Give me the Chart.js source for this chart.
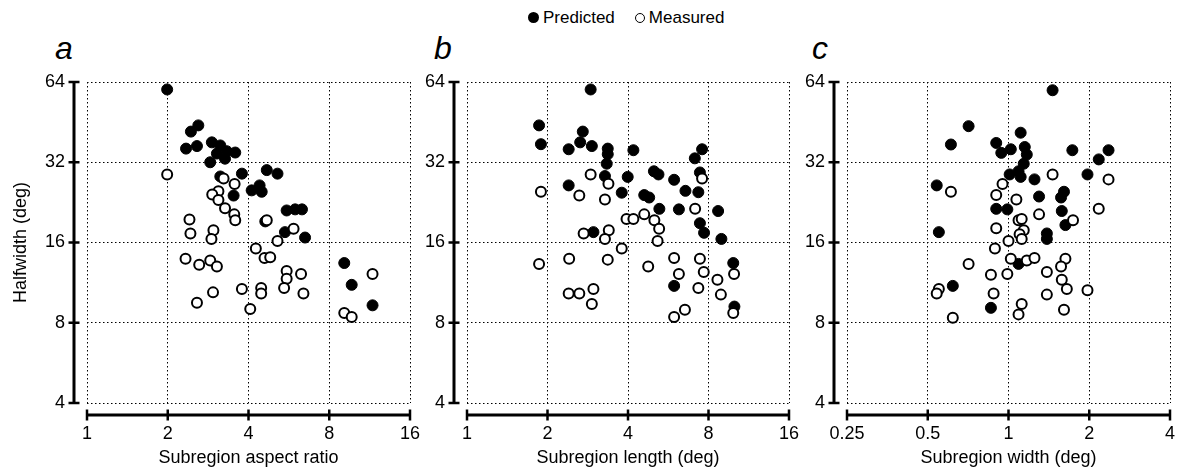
<!DOCTYPE html>
<html>
<head>
<meta charset="utf-8">
<script src="https://cdn.jsdelivr.net/npm/chart.js@4/dist/chart.umd.min.js"></script>
<style>
  body { margin: 0; background: #fff; font-family: "Liberation Sans", Arial, sans-serif; }
  #wrap { position: relative; width: 1177px; height: 469px; overflow: hidden; }
  canvas { position: absolute; top: 0; }
  .legend { position: absolute; top: 7px; left: 528px; font-size: 17px; color: #000; white-space: nowrap; }
  .legend span { display: inline-block; vertical-align: middle; }
  .dot { width: 11px; height: 11px; border-radius: 50%; background: #000; margin-right: 4px; }
  .ring { width: 8px; height: 8px; border-radius: 50%; border: 1.5px solid #000; margin: 0 4px 0 20px; }
  .letter { position: absolute; top: 30px; font-size: 32px; font-style: italic; color: #000; }
</style>
</head>
<body>
<div id="wrap">
  <div class="legend"><span class="dot"></span><span>Predicted</span><span class="ring"></span><span>Measured</span></div>
  <div class="letter" style="left:55px">a</div>
  <div class="letter" style="left:434px">b</div>
  <div class="letter" style="left:812px">c</div>
  <canvas id="chartA" width="420" height="469" style="left:0px"></canvas>
  <canvas id="chartB" width="420" height="469" style="left:380px"></canvas>
  <canvas id="chartC" width="417" height="469" style="left:760px"></canvas>
</div>
<script>
// tick labels
const yTicks = [4, 8, 16, 32, 64];
const xTicksA = [1, 2, 4, 8, 16];
const xTicksB = [1, 2, 4, 8, 16];
const xTicksC = [0.25, 0.5, 1, 2, 4];

// panel a: aspect ratio vs halfwidth
const aPredX = [1.99, 2.6, 2.44, 2.34, 2.57, 2.92, 3.14, 3.05, 3.32, 3.57, 2.88, 3.27, 3.78, 3.14, 3.52, 4.68, 5.13, 4.4, 4.11, 4.48, 5.55, 5.97, 6.33, 4.62, 5.47, 6.5, 9.1, 9.7, 11.6];
const aPredY = [60, 44, 41.7, 36, 36.8, 38, 37, 34.5, 35.2, 34.8, 32, 33, 29, 28.3, 24, 29.9, 29, 26.2, 25.1, 24.8, 21.1, 21.3, 21.3, 19.2, 17.5, 16.7, 13.4, 11.1, 9.3];
const aMeasX = [1.99, 3.23, 3.55, 3.09, 2.93, 3.09, 3.27, 3.54, 3.57, 2.41, 2.43, 2.96, 2.91, 4.68, 5.89, 5.13, 4.26, 2.33, 2.62, 2.88, 3.05, 4.59, 4.82, 5.55, 5.55, 6.28, 3.78, 4.46, 4.46, 5.43, 6.41, 2.95, 2.57, 4.06, 11.6, 9.1, 9.7];
const aMeasY = [28.8, 27.8, 26.5, 24.9, 24.2, 23.1, 21.5, 20.4, 19.4, 19.5, 17.3, 17.8, 16.5, 19.4, 18, 16.2, 15.2, 13.9, 13.2, 13.7, 13.0, 14.0, 14.1, 12.5, 11.7, 12.2, 10.7, 10.8, 10.3, 10.8, 10.3, 10.4, 9.5, 9.0, 12.2, 8.7, 8.4];

// panel b: length vs halfwidth
const bPredX = [2.9, 1.86, 1.89, 2.71, 2.65, 2.4, 2.93, 3.36, 3.36, 3.33, 4.19, 3.28, 3.99, 2.4, 3.79, 4.6, 4.8, 5.0, 5.2, 5.95, 6.56, 7.33, 5.24, 6.2, 7.43, 7.11, 7.57, 8.69, 7.43, 7.7, 8.94, 2.97, 9.9, 5.95, 10.0];
const bPredY = [60, 44, 37.4, 41.7, 38, 35.8, 36.8, 36, 34.3, 31.6, 35.5, 28.4, 28.2, 26.2, 24.6, 24.1, 23.6, 29.6, 28.8, 27.5, 25, 24.7, 21.4, 21.3, 29.3, 33.1, 35.8, 21, 18.9, 17.4, 16.5, 17.5, 13.4, 11, 9.2];
const bMeasX = [1.89, 2.9, 3.38, 2.63, 3.28, 3.95, 4.19, 4.6, 5.02, 5.23, 5.16, 7.13, 7.57, 2.73, 3.39, 3.28, 3.79, 1.86, 2.41, 3.36, 4.76, 5.95, 7.43, 6.2, 7.68, 9.97, 8.64, 7.33, 8.9, 2.4, 2.63, 2.97, 2.93, 6.53, 5.95, 9.9];
const bMeasY = [24.8, 28.8, 26.6, 24.0, 23.2, 19.6, 19.6, 20.4, 19.4, 18, 16.2, 21.4, 27.8, 17.3, 17.8, 16.5, 15.2, 13.3, 13.9, 13.8, 13, 14.0, 13.9, 12.2, 12.4, 12.2, 11.6, 10.8, 10.2, 10.3, 10.3, 10.7, 9.4, 8.95, 8.4, 8.7];

// panel c: width vs halfwidth
const cPredX = [1.46, 0.71, 0.61, 1.11, 0.9, 0.94, 1.02, 1.15, 1.17, 1.14, 1.09, 1.01, 1.11, 1.25, 1.73, 2.17, 2.36, 1.97, 0.54, 1.3, 1.61, 1.57, 1.58, 1.63, 0.9, 0.99, 0.55, 1.39, 1.39, 1.09, 0.62, 0.86];
const cPredY = [59.6, 43.7, 37.3, 41.3, 37.8, 34.7, 35.8, 36.5, 34.2, 31.6, 29.6, 28.8, 28.2, 27.6, 35.5, 32.8, 35.5, 28.8, 26.2, 23.8, 24.8, 23.6, 21, 18.6, 21.4, 21.3, 17.5, 17.3, 16.5, 13.3, 11, 9.1];
const cMeasX = [0.61, 0.95, 0.9, 1.07, 1.46, 2.36, 2.17, 1.3, 1.74, 1.09, 1.12, 1.14, 1.1, 1.12, 0.9, 1.0, 0.89, 0.71, 1.02, 1.17, 1.25, 1.63, 1.57, 0.86, 0.99, 1.39, 1.58, 1.65, 1.97, 1.39, 0.55, 0.54, 0.88, 1.12, 1.09, 1.61, 0.62];
const cMeasY = [24.8, 26.5, 24.1, 23.2, 28.8, 27.6, 21.4, 20.4, 19.4, 19.4, 19.6, 17.8, 17.2, 16.5, 18.1, 16.2, 15.2, 13.3, 13.9, 13.7, 14.0, 13.9, 13, 12.1, 12.2, 12.4, 11.6, 10.7, 10.6, 10.2, 10.7, 10.3, 10.3, 9.4, 8.6, 8.95, 8.35];

const FONT = "'Liberation Sans', Arial, sans-serif";

function toPoints(xs, ys) {
  return xs.map((x, i) => ({ x: x, y: ys[i] }));
}

// solid axis lines drawn a little away from the dotted plot box
const offsetAxes = {
  id: "offsetAxes",
  afterDraw(chart) {
    const ctx = chart.ctx;
    const area = chart.chartArea;
    const xs = chart.scales.x;
    const ys = chart.scales.y;
    const ax = area.left - 13;
    const ay = area.bottom + 12;
    ctx.save();
    ctx.strokeStyle = "#000";
    ctx.lineCap = "butt";

    ctx.lineWidth = 3;
    ctx.beginPath();
    ctx.moveTo(ax, ys.getPixelForValue(ys.min));
    ctx.lineTo(ax, ys.getPixelForValue(ys.max));
    ctx.stroke();
    ctx.beginPath();
    ctx.moveTo(xs.getPixelForValue(xs.min), ay);
    ctx.lineTo(xs.getPixelForValue(xs.max), ay);
    ctx.stroke();

    ctx.lineWidth = 2.5;
    ys.ticks.forEach((t) => {
      const py = ys.getPixelForValue(t.value);
      ctx.beginPath();
      ctx.moveTo(ax - 5.5, py);
      ctx.lineTo(ax + 5.5, py);
      ctx.stroke();
    });
    xs.ticks.forEach((t) => {
      const px = xs.getPixelForValue(t.value);
      ctx.beginPath();
      ctx.moveTo(px, ay - 5.5);
      ctx.lineTo(px, ay + 5.5);
      ctx.stroke();
    });
    ctx.restore();
  },
};

function makePanel(id, xTicks, predX, predY, measX, measY, xTitle, yTitle, padRight) {
  const ctx = document.getElementById(id).getContext("2d");
  return new Chart(ctx, {
    type: "scatter",
    data: {
      datasets: [
        {
          label: "Predicted",
          data: toPoints(predX, predY),
          backgroundColor: "#000",
          borderColor: "#000",
          borderWidth: 1,
          pointRadius: 5.5,
          order: 2,
        },
        {
          label: "Measured",
          data: toPoints(measX, measY),
          backgroundColor: "#fff",
          borderColor: "#000",
          borderWidth: 2,
          pointRadius: 5,
          order: 1,
        },
      ],
    },
    options: {
      responsive: false,
      animation: false,
      events: [],
      layout: { padding: { top: 82, right: padRight, bottom: 0, left: 0 } },
      plugins: { legend: { display: false }, tooltip: { enabled: false } },
      scales: {
        x: {
          type: "logarithmic",
          min: xTicks[0],
          max: xTicks[xTicks.length - 1],
          afterBuildTicks: (s) => { s.ticks = xTicks.map((v) => ({ value: v })); },
          afterFit: (s) => { s.height = 66; s.paddingLeft = 0; s.paddingRight = 0; },
          grid: { color: "#000", lineWidth: 1, drawTicks: false },
          border: { display: false, dash: [1.5, 2.5] },
          ticks: {
            color: "#000",
            padding: 20,
            maxRotation: 0,
            autoSkip: false,
            font: { family: FONT, size: 18 },
            callback: (v) => String(v),
          },
          title: {
            display: true,
            text: xTitle,
            color: "#000",
            font: { family: FONT, size: 18 },
            padding: { top: 0, bottom: 0 },
          },
        },
        y: {
          type: "logarithmic",
          min: 4,
          max: 64,
          afterBuildTicks: (s) => { s.ticks = yTicks.map((v) => ({ value: v })); },
          afterFit: (s) => { s.width = 87; s.paddingTop = 0; s.paddingBottom = 0; },
          grid: { color: "#000", lineWidth: 1, drawTicks: false },
          border: { display: false, dash: [1.5, 2.5] },
          ticks: {
            color: "#000",
            padding: 22,
            autoSkip: false,
            font: { family: FONT, size: 18 },
            callback: (v) => String(v),
          },
          title: {
            display: !!yTitle,
            text: yTitle,
            color: "#000",
            font: { family: FONT, size: 18 },
            padding: { top: 10, bottom: 0 },
          },
        },
      },
    },
    plugins: [offsetAxes],
  });
}

makePanel("chartA", xTicksA, aPredX, aPredY, aMeasX, aMeasY, "Subregion aspect ratio", "Halfwidth (deg)", 10);
makePanel("chartB", xTicksB, bPredX, bPredY, bMeasX, bMeasY, "Subregion length (deg)", "", 11);
makePanel("chartC", xTicksC, cPredX, cPredY, cMeasX, cMeasY, "Subregion width (deg)", "", 7);
</script>
</body>
</html>
